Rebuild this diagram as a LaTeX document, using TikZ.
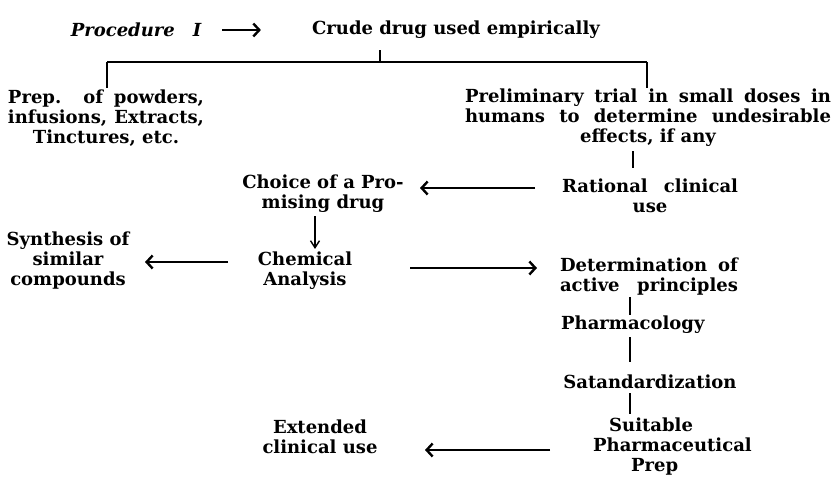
\documentclass[tikz,border=0pt]{standalone}
\usepackage{fontspec}
\setmainfont{DejaVu Serif}
\usetikzlibrary{arrows.meta}
\begin{document}
\begin{tikzpicture}[x=1pt,y=-1pt,
  every node/.style={inner sep=1pt, align=center, font=\fontsize{18}{20}\selectfont\bfseries},
  link/.style={line width=1.2pt},
  tick/.style={line width=2pt},
  arr/.style={line width=1.2pt, -{Straight Barb[length=6pt,width=13pt,line width=2.4pt]}},
  varr/.style={line width=2.2pt, -{Straight Barb[length=7pt,width=9pt,line width=1.4pt]}},
]
\useasboundingbox (0,0) rectangle (836,483);
% nodes
\node (proc) at (136,30) {\itshape Procedure\quad I};
\node (crude) at (456,30) {Crude drug used empirically};
\node (prep) at (106,118) {\makebox[196pt][s]{Prep. of powders,}\\ \makebox[196pt][s]{infusions, Extracts,}\\ Tinctures, etc.};
\node (prelim) at (648,118) {\makebox[366pt][s]{Preliminary trial in small doses in}\\ \makebox[366pt][s]{humans to determine undesirable}\\ effects, if any};
\node (choice) at (323,194) {Choice of a Pro-\\mising drug};
\node (rational) at (650,196) {\makebox[176pt][s]{Rational clinical}\\use};
\node (synth) at (68,261) {Synthesis of\\similar\\compounds};
\node (chem) at (305,271) {Chemical\\Analysis};
\node (det) at (649,277) {\makebox[178pt][s]{Determination of}\\ \makebox[178pt][s]{active principles}};
\node[anchor=west] (pharm) at (560,325) {Pharmacology};
\node (stand) at (650,382) {Satandardization};
\node[anchor=west, align=left] (suit) at (592,447) {\hspace*{16pt}Suitable\\Pharmaceutical\\\hspace*{38pt}Prep};
\node (ext) at (320,437) {Extended\\clinical use};
% coordinates
\coordinate (busM) at (380,62);
\coordinate (busL) at (107,62);
\coordinate (busR) at (647,62);
\coordinate (tA) at (633,0);
\coordinate (tB) at (315,0);
\coordinate (tC) at (630,0);
\coordinate (a1s) at (535,188); \coordinate (a1e) at (420,188);
\coordinate (a2s) at (228,262); \coordinate (a2e) at (145,262);
\coordinate (a3s) at (410,268); \coordinate (a3e) at (537,268);
\coordinate (a4s) at (550,450); \coordinate (a4e) at (425,450);
% connectors
\draw[arr] ([xshift=20pt]proc.east) -- ([xshift=-50pt]crude.west);
\draw[tick, shorten <=10pt] (crude.south -| busM) -- (busM);
\draw[link] (busL) -- (busR);
\draw[tick] (busL) -- (prep.north -| busL);
\draw[tick] (busR) -- (prelim.north -| busR);
\draw[tick, shorten <=3pt, shorten >=10pt] (prelim.south -| tA) -- (rational.north -| tA);
\draw[varr, shorten <=2pt, shorten >=2pt] (choice.south -| tB) -- (chem.north -| tB);
\draw[tick] (det.south -| tC) -- (pharm.north -| tC);
\draw[tick, shorten <=2pt, shorten >=12pt] (pharm.south -| tC) -- (stand.north -| tC);
\draw[tick, shorten <=3pt, shorten >=3pt] (stand.south -| tC) -- (suit.north -| tC);
\draw[arr] (a1s) -- (a1e);
\draw[arr] (a2s) -- (a2e);
\draw[arr] (a3s) -- (a3e);
\draw[arr] (a4s) -- (a4e);
\end{tikzpicture}
\end{document}
